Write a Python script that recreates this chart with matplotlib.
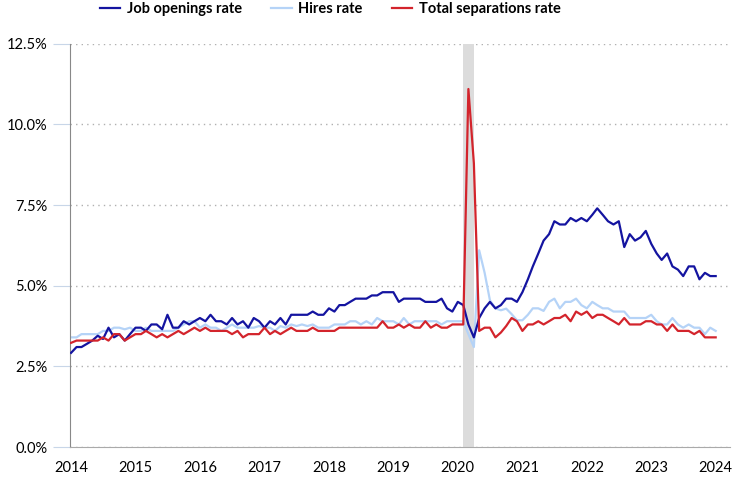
import numpy as np
import pandas as pd
import matplotlib
matplotlib.use("Agg")
from matplotlib import pyplot as plt
from matplotlib.ticker import FuncFormatter

# monthly data, Jan 2014 .. Jan 2024 (percent)
job_openings = [
    2.92, 3.1, 3.1, 3.2, 3.3, 3.45, 3.35, 3.7, 3.4, 3.5, 3.3, 3.5,
    3.7, 3.7, 3.6, 3.8, 3.8, 3.65, 4.1, 3.7, 3.7, 3.9, 3.8, 3.9,
    4.0, 3.9, 4.1, 3.9, 3.9, 3.8, 4.0, 3.8, 3.9, 3.7, 4.0, 3.9,
    3.7, 3.9, 3.8, 4.0, 3.8, 4.1, 4.1, 4.1, 4.1, 4.2, 4.1, 4.1,
    4.3, 4.2, 4.4, 4.4, 4.5, 4.6, 4.6, 4.6, 4.7, 4.7, 4.8, 4.8,
    4.8, 4.5, 4.6, 4.6, 4.6, 4.6, 4.5, 4.5, 4.5, 4.6, 4.3, 4.2,
    4.5, 4.4, 3.8, 3.4, 4.0, 4.3, 4.5, 4.3, 4.4, 4.6, 4.6, 4.5,
    4.8, 5.2, 5.6, 6.0, 6.4, 6.6, 7.0, 6.9, 6.9, 7.1, 7.0, 7.1,
    7.0, 7.2, 7.4, 7.2, 7.0, 6.9, 7.0, 6.2, 6.6, 6.4, 6.5, 6.7,
    6.3, 6.0, 5.8, 6.0, 5.6, 5.5, 5.3, 5.6, 5.6, 5.2, 5.4, 5.3,
    5.3,
]
hires = [
    3.4, 3.4, 3.5, 3.5, 3.5, 3.5, 3.6, 3.6, 3.7, 3.7, 3.65, 3.7,
    3.6, 3.6, 3.7, 3.6, 3.6, 3.6, 3.6, 3.6, 3.7, 3.8, 3.9, 3.9,
    3.7, 3.8, 3.7, 3.7, 3.6, 3.7, 3.8, 3.7, 3.7, 3.7, 3.7, 3.75,
    3.7, 3.7, 3.6, 3.75, 3.7, 3.8, 3.75, 3.8, 3.75, 3.8, 3.7, 3.7,
    3.7, 3.8, 3.8, 3.8, 3.9, 3.9, 3.8, 3.9, 3.8, 4.0, 3.9, 3.9,
    3.9, 3.8, 4.0, 3.8, 3.9, 3.9, 3.9, 3.9, 3.9, 3.8, 3.9, 3.9,
    3.9, 3.9, 3.5, 3.1, 6.1, 5.4, 4.55, 4.3, 4.24, 4.29, 4.12, 3.93,
    3.93, 4.1, 4.3, 4.3, 4.22, 4.5, 4.6, 4.3, 4.5, 4.5, 4.6, 4.4,
    4.3, 4.5, 4.4, 4.3, 4.3, 4.2, 4.2, 4.2, 4.0, 4.0, 4.0, 4.0,
    4.1, 3.9, 3.8, 3.8, 4.0, 3.8, 3.7, 3.8, 3.7, 3.7, 3.5, 3.7,
    3.6,
]
separations = [
    3.23, 3.3, 3.3, 3.3, 3.3, 3.3, 3.4, 3.3, 3.5, 3.5, 3.3, 3.4,
    3.5, 3.5, 3.6, 3.5, 3.4, 3.5, 3.4, 3.5, 3.6, 3.5, 3.6, 3.7,
    3.6, 3.7, 3.6, 3.6, 3.6, 3.6, 3.5, 3.6, 3.4, 3.5, 3.5, 3.5,
    3.7, 3.5, 3.6, 3.5, 3.6, 3.7, 3.6, 3.6, 3.6, 3.7, 3.6, 3.6,
    3.6, 3.6, 3.7, 3.7, 3.7, 3.7, 3.7, 3.7, 3.7, 3.7, 3.9, 3.7,
    3.7, 3.8, 3.7, 3.8, 3.7, 3.7, 3.9, 3.7, 3.8, 3.7, 3.7, 3.8,
    3.8, 3.8, 11.1, 8.8, 3.6, 3.7, 3.7, 3.4, 3.55, 3.75, 4.0, 3.9,
    3.6, 3.8, 3.8, 3.9, 3.8, 3.9, 4.0, 4.0, 4.1, 3.9, 4.2, 4.1,
    4.2, 4.0, 4.1, 4.1, 4.0, 3.9, 3.8, 4.0, 3.8, 3.8, 3.8, 3.9,
    3.9, 3.8, 3.8, 3.6, 3.8, 3.6, 3.6, 3.6, 3.5, 3.6, 3.4, 3.4,
    3.4,
]
years = list(range(2014, 2025))
recession = ("2020-02-01", "2020-04-01")

dates = pd.date_range("2014-01-01", periods=len(job_openings), freq="MS")

plt.rcParams['font.family'] = ['Lato', 'DejaVu Sans']

fig = plt.figure(figsize=(7.37, 4.84), dpi=100)
ax = fig.add_axes([0.095, 0.0764, 0.895, 0.833])

ax.axvspan(pd.Timestamp(recession[0]), pd.Timestamp(recession[1]),
           color="#dcdcdc", lw=0, zorder=1)

ax.plot(dates, job_openings, color="#1414a0", lw=1.6, label="Job openings rate", zorder=3)
ax.plot(dates, hires, color="#b5d3f7", lw=1.6, label="Hires rate", zorder=2)
ax.plot(dates, separations, color="#d3242c", lw=1.6, label="Total separations rate", zorder=4)

ax.set_ylim(0, 12.5)
ax.set_yticks(np.arange(0, 12.6, 2.5))
ax.yaxis.set_major_formatter(FuncFormatter(lambda v, p: "%.1f%%" % v))
ax.set_xticks([pd.Timestamp("%d-01-01" % y) for y in years])
ax.set_xticklabels([str(y) for y in years])
ax.set_xlim(pd.Timestamp("2013-12-26"), pd.Timestamp("2024-03-20"))

ax.grid(axis="y", linestyle=(0, (1, 3)), color="#b0b0b0", lw=1)
ax.set_axisbelow(True)
for s in ["top", "right"]:
    ax.spines[s].set_visible(False)
ax.spines["left"].set_color("#888888")
ax.spines["bottom"].set_color("#aaaaaa")
ax.tick_params(axis="y", length=12, color="#c8d6e8", labelsize=10.5, pad=4)
ax.tick_params(axis="x", length=0, labelsize=10.5, pad=10)

fig.legend(loc="upper center", bbox_to_anchor=(0.448, 1.022), ncol=3, frameon=False,
           prop={"weight": "bold", "size": 10.5}, handlelength=1.4,
           handletextpad=0.45, columnspacing=2.0)

fig.savefig("out.png", dpi=100)
